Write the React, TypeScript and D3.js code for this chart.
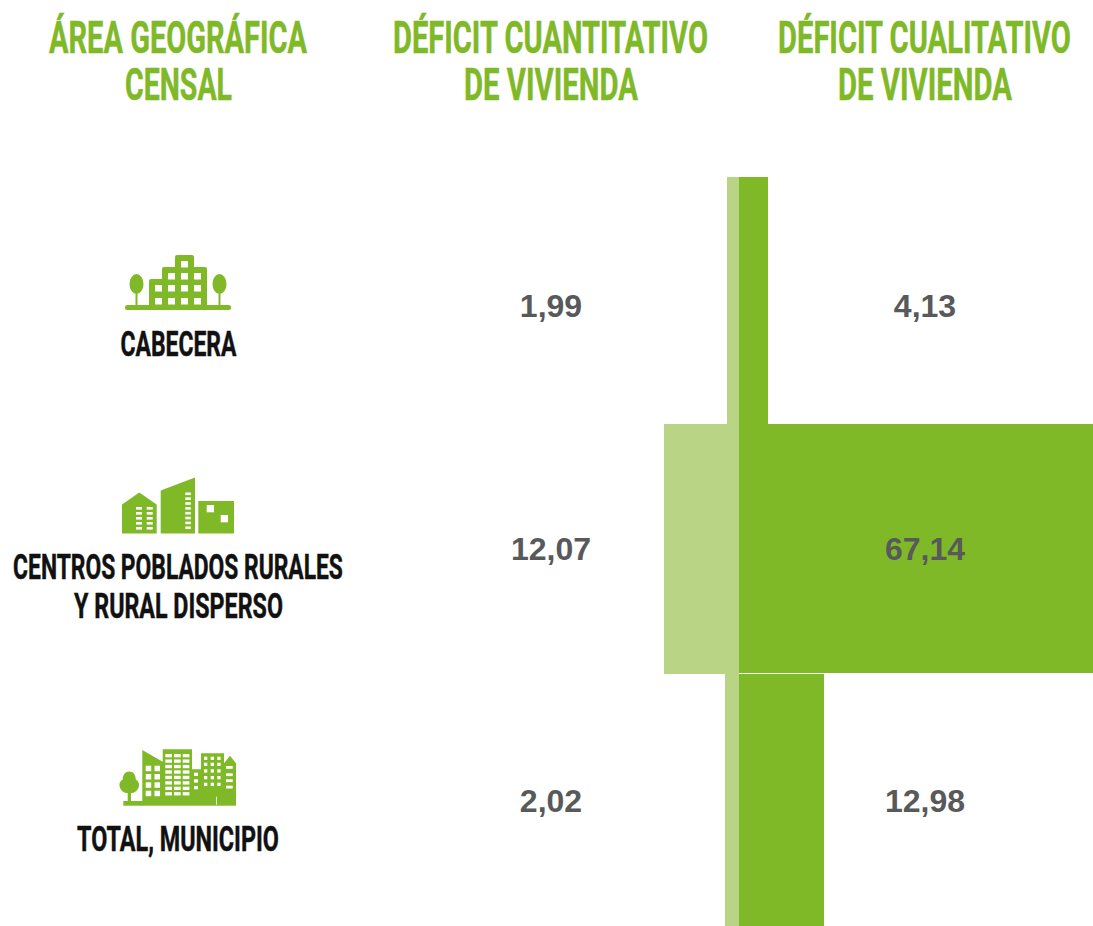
import { useEffect, useRef } from 'react';
import { scaleLinear, scaleOrdinal, select, range } from 'd3';

const width = 1093;
const height = 926;
const green = '#7fb928';
const lightGreen = '#b9d485';
const grey = '#58595b';
const displayFont = '"Liberation Sans Narrow", "Roboto", sans-serif';
const valueFont = '"Liberation Sans", Arial, sans-serif';

const areas = ['Cabecera', 'Centros poblados', 'Total'];
const cuantitativo = [1.99, 12.07, 2.02];
const cualitativo = [4.13, 67.14, 12.98];
const valueLabels = ['1,99', '12,07', '2,02'];
const valueLabels2 = ['4,13', '67,14', '12,98'];

type Line = [string, number, number, number];

// [text, center x, baseline, fitted width]
const headers: Line[] = [
  ['ÁREA GEOGRÁFICA', 178, 53, 258],
  ['CENSAL', 178.5, 100, 107],
  ['DÉFICIT CUANTITATIVO', 550.5, 53, 315],
  ['DE VIVIENDA', 551, 100, 174],
  ['DÉFICIT CUALITATIVO', 924.5, 53, 293],
  ['DE VIVIENDA', 925, 100, 174],
];
const areaLabels: Line[] = [
  ['CABECERA', 178.5, 356, 116],
  ['CENTROS POBLADOS RURALES', 178, 579, 330],
  ['Y RURAL DISPERSO', 178.5, 618, 209],
  ['TOTAL, MUNICIPIO', 178, 851, 202],
];

// rows are not quite the same height in the original
const rowTop = scaleOrdinal<string, number>().domain(areas).range([177, 424, 674]);
const rowBottom = scaleOrdinal<string, number>().domain(areas).range([424, 674, 926]);

// bars were sized by hand in the original, so the scales have a few stops
const left = scaleLinear().domain([0, 1.99, 2.02, 12.07]).range([739, 727, 725, 664]);
const right = scaleLinear().domain([0, 4.13, 12.98, 67.14]).range([739, 768, 824, 1180]);
const valueBaselines = [317, 560, 812];

function Icons() {
  return (
    <g>
      {/* cabecera */}
      <g fill={green}>
        <rect x={125} y={305} width={106} height={5} rx={2.5} />
        <ellipse cx={136.5} cy={284} rx={7} ry={10} />
        <ellipse cx={219.5} cy={284} rx={7} ry={10} />
        <rect x={135.5} y={290} width={2} height={16} />
        <rect x={218.5} y={290} width={2} height={16} />
        <path d="M149 306V281q0-2 2-2h11v-10q0-2 2-2h11v-10q0-2 2-2h15q2 0 2 2v10h11q2 0 2 2v37z" />
      </g>
      <g fill="#fff">
        {[155, 168, 181, 194].flatMap((wx) =>
          [298, 285].map((wy) => <rect key={`${wx}-${wy}`} x={wx} y={wy} width={7} height={6.5} />)
        )}
        {[168, 181, 194].map((wx) => <rect key={wx} x={wx} y={273} width={7} height={6.5} />)}
        <rect x={181} y={261} width={7} height={6.5} />
      </g>

      {/* centros poblados */}
      <g fill={green}>
        <path d="M122 533.5V504.5L139.3 492.5L156.7 504.5V533.5z" />
        <path d="M160.7 533.5V490.5L195 477.5V533.5z" />
        <rect x={198.3} y={501} width={35.7} height={32.5} />
      </g>
      <g fill="#fff">
        {[136, 146.7].flatMap((wx) =>
          range(5).map((i) => <rect key={`${wx}-${i}`} x={wx} y={507 + i * 5} width={6} height={2.6} />)
        )}
        {range(8).map((i) => <rect key={i} x={185.3} y={492.5 + i * 4.85} width={5.5} height={2.6} />)}
        <rect x={206.7} y={505} width={7.3} height={7.3} />
        <rect x={220.7} y={515} width={7.3} height={7.3} />
      </g>

      {/* total */}
      <g fill={green}>
        <rect x={123.3} y={801} width={112.7} height={4.7} />
        <path d="M129.3 771.5c4 0 6.5 3.5 6.5 8c2.5 1.5 3.5 3.5 3.2 6c-.3 4-3.5 7-7 7.5h-5.5c-3.5-.5-6.7-3.5-7-7.5c-.3-2.5.7-4.5 3.2-6c0-4.5 2.6-8 6.6-8z" />
        <rect x={127.7} y={790} width={3.3} height={12} />
        <path d="M142.3 802V750L162.7 761.7V749.3H192V769.3H201V753.3H224V763.3L230 755.7L236 763.3V802z" />
      </g>
      <g fill="#fff">
        {[145.7, 154.5].flatMap((wx) =>
          [765.7, 774, 782.3, 790.7].map((wy) => <rect key={`${wx}-${wy}`} x={wx} y={wy} width={5.5} height={5.5} />)
        )}
        {[165.3, 174, 182.7].flatMap((wx) =>
          range(8).map((i) => <rect key={`${wx}-${i}`} x={wx} y={754 + i * 5.45} width={6.7} height={3.3} />)
        )}
        {[772.7, 779.3, 786].map((wy) => <rect key={wy} x={194} y={wy} width={4} height={3.3} />)}
        {[204, 210.7, 217.3].flatMap((wx) =>
          [756.7, 762.7, 769.3, 776, 782.7].map((wy) => <rect key={`${wx}-${wy}`} x={wx} y={wy} width={3.3} height={3.3} />)
        )}
        {[766, 773.3, 779.3, 785.7].map((wy) => <rect key={wy} x={226} y={wy} width={6.7} height={2.8} />)}
        <rect x={216} y={796.7} width={0.8} height={8} />
      </g>
    </g>
  );
}

export default function App() {
  const ref = useRef<SVGSVGElement>(null);

  useEffect(() => {
    const svg = select(ref.current);

    svg.select('.bars-left')
      .selectAll('rect')
      .data(cuantitativo)
      .join('rect')
      .attr('x', (d) => left(d))
      .attr('y', (_, i) => rowTop(areas[i]))
      .attr('width', (d) => left(0) - left(d))
      .attr('height', (_, i) => rowBottom(areas[i]) - rowTop(areas[i]))
      .attr('fill', lightGreen);

    svg.select('.bars-right')
      .selectAll('rect')
      .data(cualitativo)
      .join('rect')
      .attr('x', right(0))
      .attr('y', (_, i) => rowTop(areas[i]))
      .attr('width', (d) => right(d) - right(0))
      .attr('height', (_, i) => rowBottom(areas[i]) - rowTop(areas[i]) - (i === 1 ? 1 : 0))
      .attr('fill', green);

    // squeeze the narrow font to the width of the display face
    const drawLines = (cls: string, lines: Line[], color: string, size: number) => {
      svg.select(cls)
        .selectAll('text')
        .data(lines)
        .join('text')
        .text((d) => d[0])
        .attr('text-anchor', 'middle')
        .attr('font-family', displayFont)
        .attr('font-weight', 700)
        .attr('font-size', size)
        .attr('fill', color)
        .attr('stroke', color)
        .attr('stroke-width', 0.5)
        .each(function (d) {
          const w = (this as SVGTextElement).getComputedTextLength();
          select(this).attr('transform', `translate(${d[1]},${d[2]}) scale(${d[3] / w},1)`);
        });
    };
    drawLines('.headers', headers, green, 44);
    drawLines('.area-labels', areaLabels, '#111', 36);
  }, []);

  return (
    <svg
      ref={ref}
      width={width}
      height={height}
      style={{ position: 'absolute', left: 0, top: 0, overflow: 'hidden' }}
    >
      <rect width={width} height={height} fill="#fff" />
      <g className="bars-left" />
      <g className="bars-right" />
      <g className="headers" />
      <g className="area-labels" />
      <Icons />
      {valueLabels.map((t, i) => (
        <text key={t} x={551} y={valueBaselines[i]} textAnchor="middle" fontFamily={valueFont} fontWeight={700} fontSize={32} fill={grey}>
          {t}
        </text>
      ))}
      {valueLabels2.map((t, i) => (
        <text key={t} x={925} y={valueBaselines[i]} textAnchor="middle" fontFamily={valueFont} fontWeight={700} fontSize={32} fill={grey}>
          {t}
        </text>
      ))}
    </svg>
  );
}
